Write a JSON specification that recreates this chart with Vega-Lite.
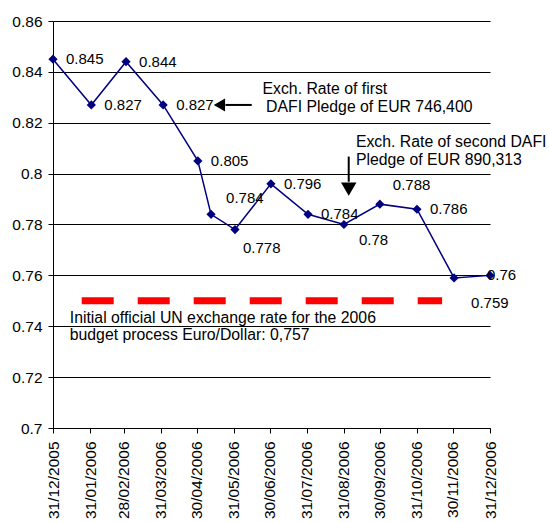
{
  "$schema": "https://vega.github.io/schema/vega-lite/v6.json",
  "width": 437,
  "height": 407,
  "autosize": "none",
  "padding": {"left": 53, "top": 21, "right": 59, "bottom": 94},
  "background": "white",
  "config": {
    "view": {"stroke": null},
    "font": "Liberation Sans",
    "text": {"font": "Liberation Sans", "color": "black"}
  },
  "datasets": {
    "rates": [
      {"d": "2005-12-31", "v": 0.845},
      {"d": "2006-02-01", "v": 0.827},
      {"d": "2006-03-02", "v": 0.844},
      {"d": "2006-04-02", "v": 0.827},
      {"d": "2006-05-01", "v": 0.805},
      {"d": "2006-05-12", "v": 0.784},
      {"d": "2006-06-01", "v": 0.778},
      {"d": "2006-07-01", "v": 0.796},
      {"d": "2006-08-01", "v": 0.784},
      {"d": "2006-08-31", "v": 0.78},
      {"d": "2006-09-30", "v": 0.788},
      {"d": "2006-10-31", "v": 0.786},
      {"d": "2006-12-01", "v": 0.759},
      {"d": "2006-12-31", "v": 0.76}
    ],
    "budget": [
      {"d": "2006-01-24", "v": 0.75},
      {"d": "2006-11-21", "v": 0.75}
    ],
    "notes": [
      {"d": "2006-06-24", "v": 0.8333, "t": "Exch. Rate of first"},
      {"d": "2006-06-27", "v": 0.8262, "t": "DAFI Pledge of EUR 746,400"},
      {"d": "2006-09-10", "v": 0.8126, "t": "Exch. Rate of second DAFI"},
      {"d": "2006-09-10", "v": 0.8054, "t": "Pledge of EUR 890,313"},
      {"d": "2006-01-14", "v": 0.7433, "t": "Initial official UN exchange rate for the 2006"},
      {"d": "2006-01-14", "v": 0.7364, "t": "budget process Euro/Dollar: 0,757"}
    ],
    "shaft1": [{"d": "2006-05-24", "d2": "2006-06-15", "v": 0.827}],
    "head1": [{"d": "2006-05-19", "v": 0.827}],
    "shaft2": [{"d": "2006-09-04", "v": 0.8067, "v2": 0.7968}],
    "head2": [{"d": "2006-09-04", "v": 0.7939}]
  },
  "encoding": {
    "x": {
      "field": "d",
      "type": "temporal",
      "scale": {
        "type": "utc",
        "domain": [
          {"year": 2005, "month": 12, "date": 31, "utc": true},
          {"year": 2006, "month": 12, "date": 31, "utc": true}
        ]
      },
      "axis": {
        "title": null,
        "grid": false,
        "values": [
          {"year": 2005, "month": 12, "date": 31, "utc": true},
          {"year": 2006, "month": 1, "date": 31, "utc": true},
          {"year": 2006, "month": 2, "date": 28, "utc": true},
          {"year": 2006, "month": 3, "date": 31, "utc": true},
          {"year": 2006, "month": 4, "date": 30, "utc": true},
          {"year": 2006, "month": 5, "date": 31, "utc": true},
          {"year": 2006, "month": 6, "date": 30, "utc": true},
          {"year": 2006, "month": 7, "date": 31, "utc": true},
          {"year": 2006, "month": 8, "date": 31, "utc": true},
          {"year": 2006, "month": 9, "date": 30, "utc": true},
          {"year": 2006, "month": 10, "date": 31, "utc": true},
          {"year": 2006, "month": 11, "date": 30, "utc": true},
          {"year": 2006, "month": 12, "date": 31, "utc": true}
        ],
        "labelExpr": "utcFormat(datum.value, '%d/%m/%Y')",
        "labelAngle": 270,
        "labelFontSize": 15.5,
        "labelColor": "black",
        "labelFont": "Liberation Sans",
        "labelPadding": 8,
        "labelOverlap": false,
        "labelFlush": false,
        "tickSize": 5,
        "tickColor": "black",
        "domainColor": "black"
      }
    },
    "y": {
      "field": "v",
      "type": "quantitative",
      "scale": {"domain": [0.7, 0.86], "nice": false, "zero": false},
      "axis": {
        "title": null,
        "values": [0.7, 0.72, 0.74, 0.76, 0.78, 0.8, 0.82, 0.84, 0.86],
        "labelExpr": "format(datum.value, '.2~f')",
        "labelFontSize": 15.5,
        "labelColor": "black",
        "labelFont": "Liberation Sans",
        "labelPadding": 6,
        "labelFlush": false,
        "tickSize": 5,
        "tickColor": "black",
        "domainColor": "black",
        "grid": true,
        "gridColor": "black",
        "gridWidth": 1,
        "gridOpacity": 1
      }
    }
  },
  "layer": [
    {
      "data": {"name": "budget"},
      "mark": {"type": "line", "color": "#FF0000", "strokeWidth": 7, "strokeDash": [32, 24], "strokeCap": "butt"}
    },
    {
      "data": {"name": "rates"},
      "mark": {"type": "line", "color": "#000080", "strokeWidth": 1.5}
    },
    {
      "data": {"name": "rates"},
      "mark": {"type": "point", "shape": "diamond", "filled": true, "color": "#000080", "size": 85, "opacity": 1}
    },
    {
      "data": {"name": "rates"},
      "transform": [{"filter": "indexof(['2005-12-31','2006-02-01','2006-03-02','2006-04-02','2006-05-01','2006-07-01','2006-08-01','2006-10-31'], utcFormat(toDate(datum.d), '%Y-%m-%d')) >= 0"}],
      "mark": {"type": "text", "align": "left", "baseline": "middle", "dx": 13, "dy": 0, "fontSize": 15},
      "encoding": {"text": {"field": "v", "type": "quantitative", "format": ".3~f"}}
    },
    {
      "data": {"name": "rates"},
      "transform": [{"filter": "utcFormat(toDate(datum.d), '%Y-%m-%d') === '2006-05-12'"}],
      "mark": {"type": "text", "align": "left", "baseline": "middle", "dx": 15, "dy": -16, "fontSize": 15},
      "encoding": {"text": {"field": "v", "type": "quantitative", "format": ".3~f"}}
    },
    {
      "data": {"name": "rates"},
      "transform": [{"filter": "utcFormat(toDate(datum.d), '%Y-%m-%d') === '2006-06-01'"}],
      "mark": {"type": "text", "align": "left", "baseline": "middle", "dx": 8, "dy": 18, "fontSize": 15},
      "encoding": {"text": {"field": "v", "type": "quantitative", "format": ".3~f"}}
    },
    {
      "data": {"name": "rates"},
      "transform": [{"filter": "utcFormat(toDate(datum.d), '%Y-%m-%d') === '2006-08-31'"}],
      "mark": {"type": "text", "align": "left", "baseline": "middle", "dx": 15, "dy": 15, "fontSize": 15},
      "encoding": {"text": {"field": "v", "type": "quantitative", "format": ".3~f"}}
    },
    {
      "data": {"name": "rates"},
      "transform": [{"filter": "utcFormat(toDate(datum.d), '%Y-%m-%d') === '2006-09-30'"}],
      "mark": {"type": "text", "align": "left", "baseline": "middle", "dx": 13, "dy": -19, "fontSize": 15},
      "encoding": {"text": {"field": "v", "type": "quantitative", "format": ".3~f"}}
    },
    {
      "data": {"name": "rates"},
      "transform": [{"filter": "utcFormat(toDate(datum.d), '%Y-%m-%d') === '2006-12-01'"}],
      "mark": {"type": "text", "align": "left", "baseline": "middle", "dx": 17, "dy": 25, "fontSize": 15},
      "encoding": {"text": {"field": "v", "type": "quantitative", "format": ".3~f"}}
    },
    {
      "data": {"name": "rates"},
      "transform": [{"filter": "utcFormat(toDate(datum.d), '%Y-%m-%d') === '2006-12-31'"}],
      "mark": {"type": "text", "align": "left", "baseline": "middle", "dx": -3, "dy": 0, "fontSize": 15},
      "encoding": {"text": {"field": "v", "type": "quantitative", "format": ".3~f"}}
    },
    {
      "data": {"name": "notes"},
      "mark": {"type": "text", "align": "left", "baseline": "middle", "fontSize": 15.8},
      "encoding": {"text": {"field": "t"}}
    },
    {
      "data": {"name": "shaft1"},
      "mark": {"type": "rule", "color": "black", "strokeWidth": 2},
      "encoding": {"x2": {"field": "d2"}}
    },
    {
      "data": {"name": "head1"},
      "mark": {"type": "point", "shape": "triangle-left", "filled": true, "color": "black", "size": 170, "opacity": 1}
    },
    {
      "data": {"name": "shaft2"},
      "mark": {"type": "rule", "color": "black", "strokeWidth": 2},
      "encoding": {"y2": {"field": "v2"}}
    },
    {
      "data": {"name": "head2"},
      "mark": {"type": "point", "shape": "triangle-down", "filled": true, "color": "black", "size": 240, "opacity": 1}
    }
  ]
}
